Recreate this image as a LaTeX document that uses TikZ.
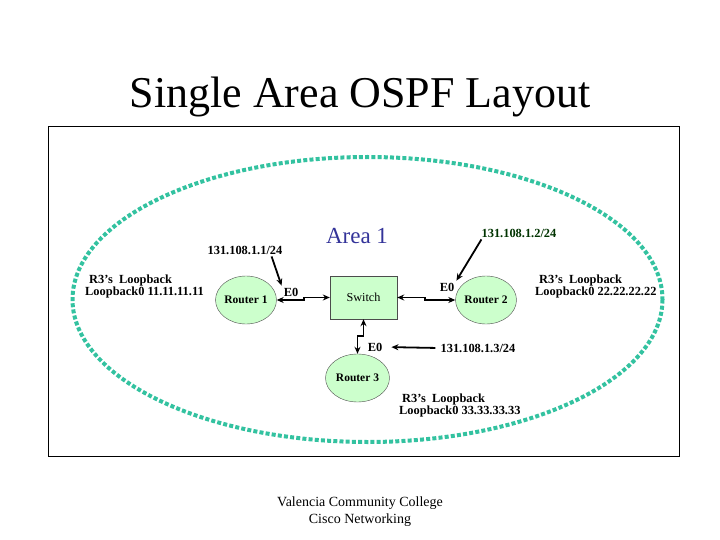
\documentclass[tikz,border=0pt]{standalone}
\usepackage{fontspec}
\setmainfont{Liberation Serif}
\usepackage{xcolor}
\usepackage{tikz}
\usetikzlibrary{shapes.geometric, positioning, arrows.meta, calc}

\definecolor{routerfill}{RGB}{204,255,204}
\definecolor{areadots}{RGB}{51,194,160}
\definecolor{areablue}{RGB}{51,51,153}
\definecolor{ipgreen}{RGB}{0,51,0}

\begin{document}
\begin{tikzpicture}[x=1pt, y=-1pt,
	router/.style={ellipse, draw=black!70, fill=routerfill, minimum width=60pt, minimum height=48pt, inner sep=0pt, font=\bfseries\fontsize{11.5}{12}\selectfont},
	switchbox/.style={rectangle, draw=black!70, fill=routerfill, minimum width=67pt, minimum height=43pt, font=\fontsize{12.2}{13}\selectfont},
	lbl/.style={font=\bfseries\fontsize{12.4}{12}\selectfont, inner sep=2pt},
	loop/.style={lbl, align=left, anchor=west},
	link/.style={line width=1.8pt, {Stealth[length=7pt,width=6pt]}-{Stealth[length=7pt,width=6pt]}},
	pointer/.style={line width=1.8pt, -{Stealth[length=7pt,width=6pt]}}]
	\useasboundingbox (0,0) rectangle (720,540);
	
	% Title and frame
	\node (title) at (360,97) {\fontsize{44}{48}\selectfont Single Area OSPF Layout};
	\draw[line width=0.8pt] (48,126) rectangle (679,456);
	
	% Area boundary
	\draw[areadots, line width=4pt, dash pattern=on 4pt off 2.2pt] (367.5,299.5) ellipse [x radius=295, y radius=142.5];
	\node[text=areablue, font=\fontsize{23}{26}\selectfont] (area) at (357,236) {Area 1};
	
	% Routers and switch
	\node[router] (r1) at (246,300) {Router 1};
	\node[switchbox] (sw) at (363.5,297.5) {Switch};
	\node[router] (r2) at (486,300) {Router 2};
	\node[router, minimum width=64pt] (r3) at (357.5,378) {Router 3};
	
	% Links
	\draw[link] (r1.east) -- ++(27,0) |- (sw.west);
	\draw[link] (sw.east) -- ++(28,0) |- (r2.west);
	\draw[link] (sw.south) -- ++(0,17) -| (r3.north);
	
	% Interface labels
	\node[lbl] (e01) at (291,292) {E0};
	\node[lbl] (e02) at (447,287) {E0};
	\node[lbl] (e03) at (375,347) {E0};
	
	% Addresses
	\node[lbl] (ip1) at (245,250) {131.108.1.1/24};
	\node[lbl, text=ipgreen] (ip2) at (519,233) {131.108.1.2/24};
	\node[lbl] (ip3) at (478,348) {131.108.1.3/24};
	\draw[pointer] ([xshift=-13pt]ip1.south east) -- (e01.north west);
	\draw[pointer] ([xshift=2pt]ip2.south west) -- (e02.north east);
	\draw[pointer, shorten <=3pt, shorten >=7pt] (ip3.west) -- (e03.east);
	
	% Loopbacks
	\node[loop] (lo1) at (83,287) {\hspace*{4pt}R3’s\ \ Loopback\\Loopback0 11.11.11.11};
	\node[loop] (lo2) at (533,287) {\hspace*{4pt}R3’s\ \ Loopback\\Loopback0 22.22.22.22};
	\node[loop] (lo3) at (397,406) {\hspace*{3pt}R3’s\ \ Loopback\\Loopback0 33.33.33.33};
	
	% Footer
	\node[align=center, font=\fontsize{14}{17}\selectfont] (footer) at (360,512) {Valencia Community College\\Cisco Networking};
	
\end{tikzpicture}
\end{document}
